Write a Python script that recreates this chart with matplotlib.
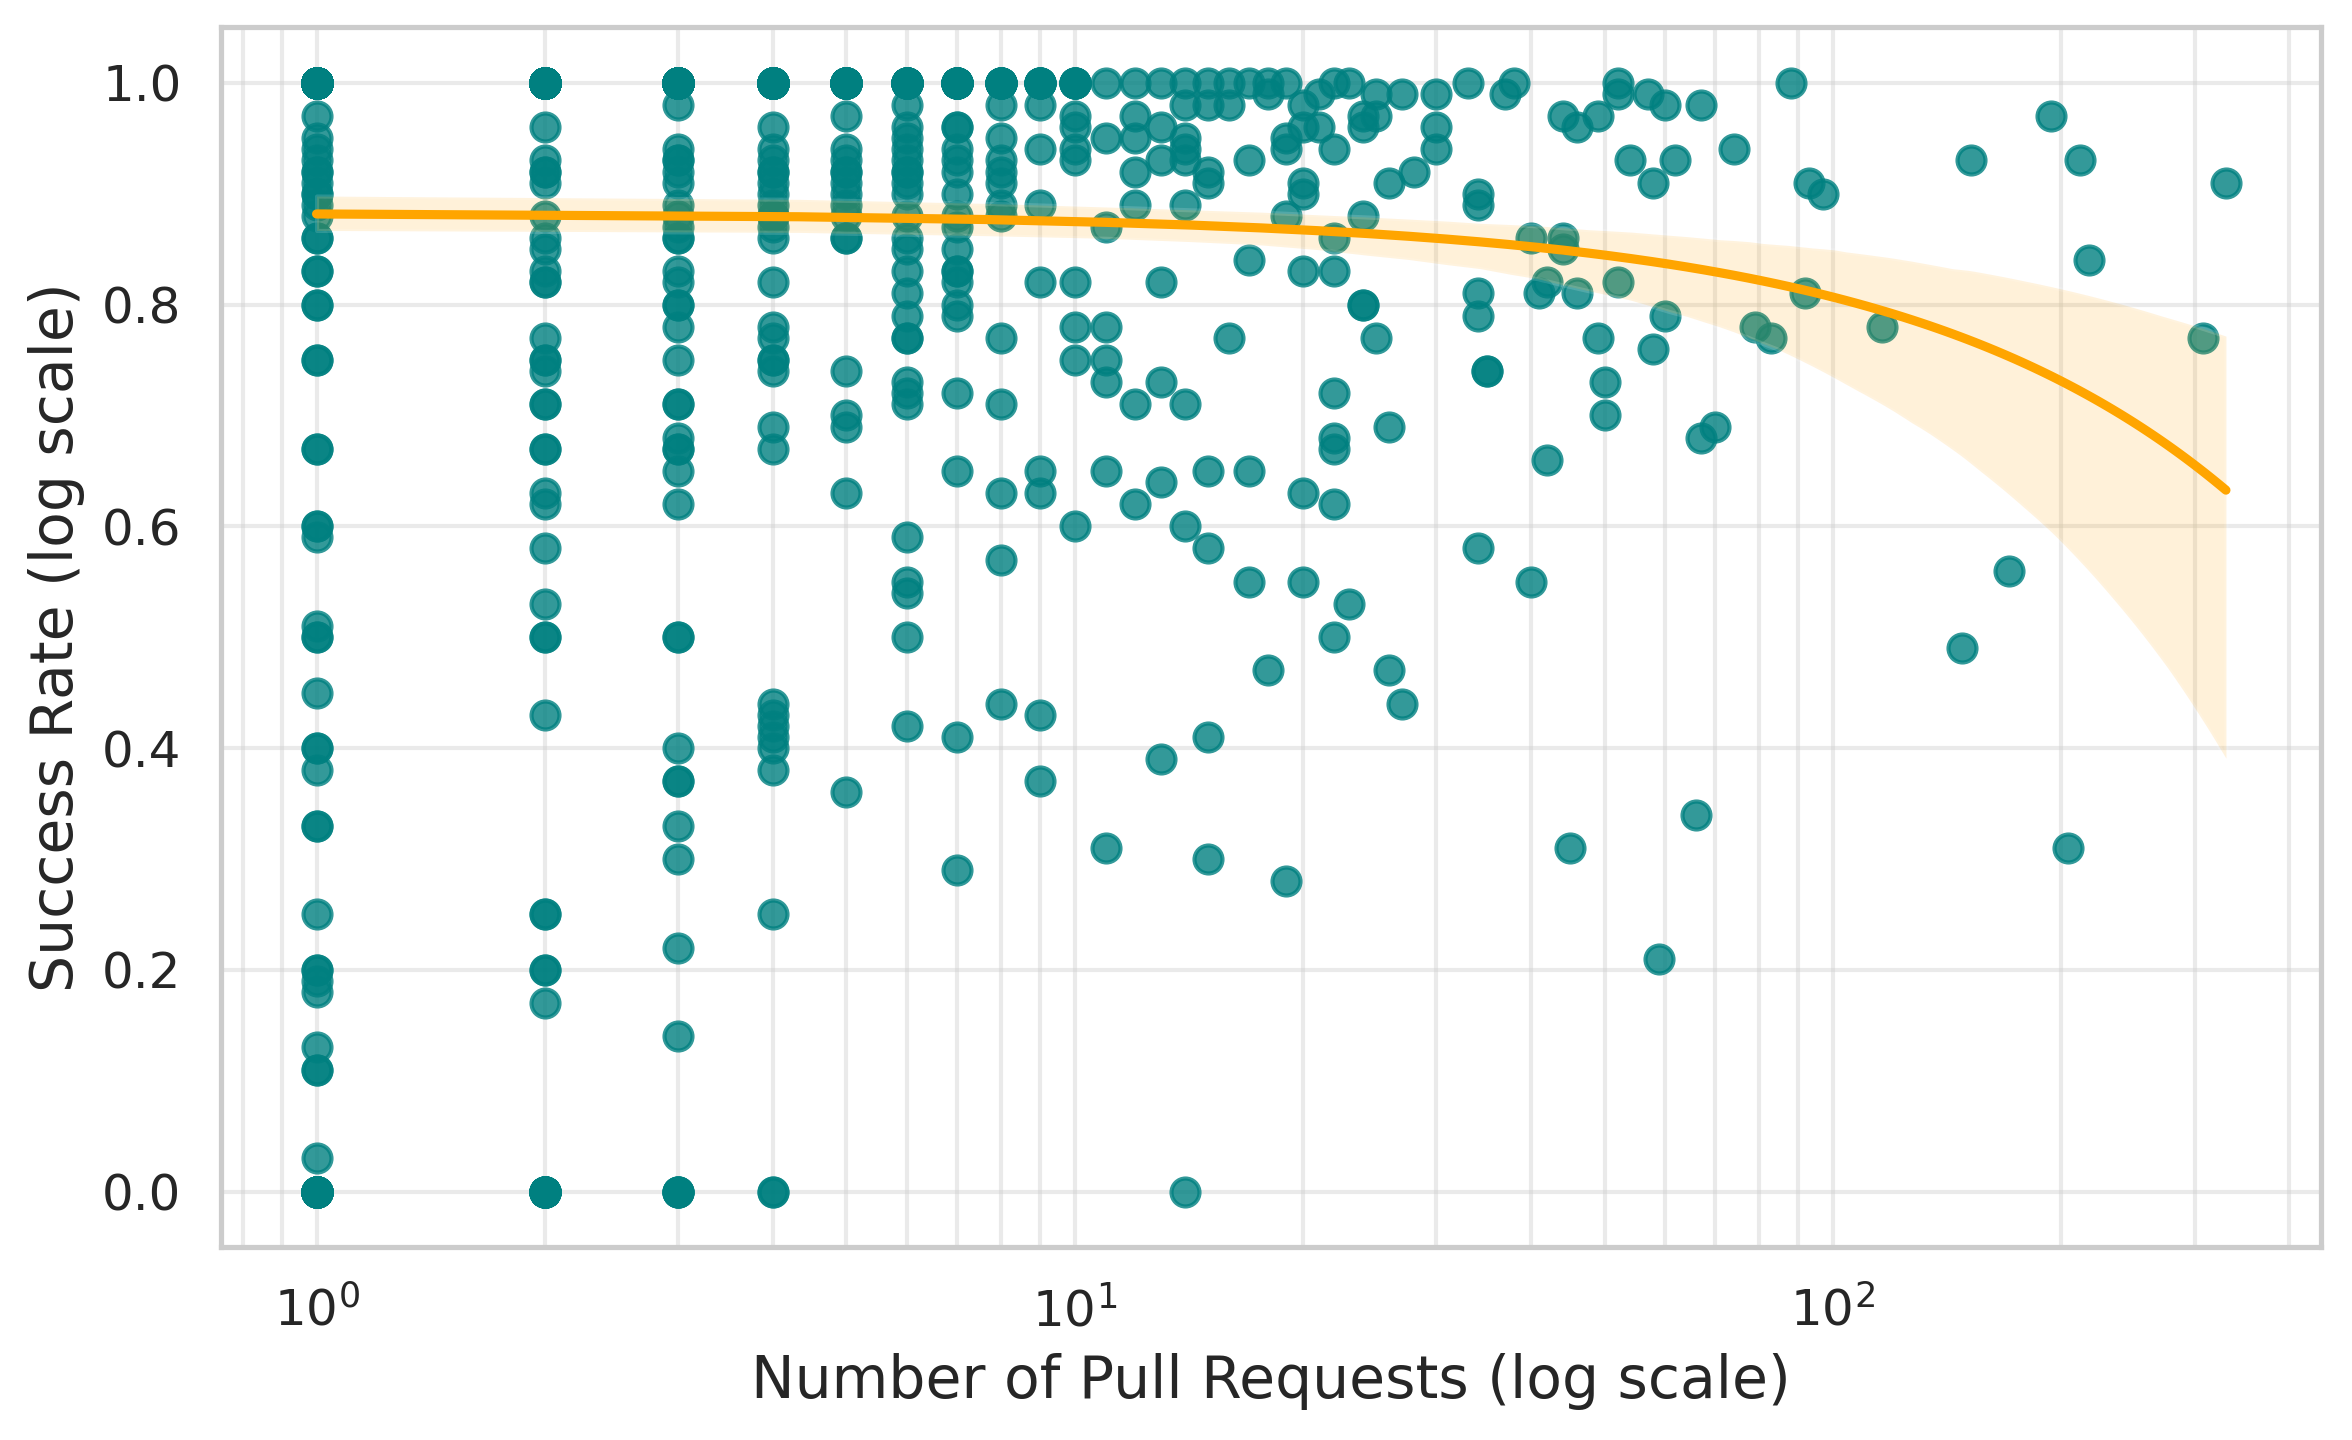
import matplotlib
matplotlib.use('Agg')
import matplotlib.pyplot as plt
import numpy as np
import seaborn as sns

# success rate of each contributor, grouped by number of pull requests
rates_pr1 = [0.97, 0.95, 0.94, 0.93, 0.92, 0.92, 0.91, 0.90, 0.90, 0.89, 0.88,
             0.86, 0.86, 0.83, 0.83, 0.80, 0.80, 0.75, 0.75, 0.67, 0.67, 0.60, 0.60, 0.59,
             0.51, 0.50, 0.50, 0.45, 0.40, 0.40, 0.38, 0.33, 0.33, 0.25, 0.20, 0.20, 0.19,
             0.18, 0.13, 0.11, 0.11, 0.03]
rates_pr2 = [0.96, 0.93, 0.92, 0.92, 0.91, 0.88, 0.86, 0.85, 0.83, 0.82, 0.82,
             0.77, 0.75, 0.75, 0.74, 0.71, 0.71, 0.67, 0.67, 0.63, 0.62, 0.58, 0.53, 0.50,
             0.50, 0.43, 0.25, 0.25, 0.20, 0.20, 0.17]
rates_pr3 = [0.98, 0.94, 0.93, 0.93, 0.92, 0.91, 0.89, 0.88, 0.87, 0.86, 0.86,
             0.83, 0.82, 0.80, 0.80, 0.78, 0.75, 0.71, 0.71, 0.68, 0.67, 0.67, 0.65, 0.62,
             0.50, 0.50, 0.40, 0.37, 0.37, 0.33, 0.30, 0.22, 0.14]
rates_pr4 = [0.96, 0.94, 0.93, 0.92, 0.92, 0.91, 0.90, 0.89, 0.88, 0.88, 0.87,
             0.86, 0.82, 0.78, 0.77, 0.75, 0.75, 0.74, 0.69, 0.67, 0.44, 0.43, 0.42, 0.41,
             0.40, 0.38, 0.25]
rates_pr5 = [0.97, 0.94, 0.93, 0.92, 0.92, 0.91, 0.90, 0.89, 0.88, 0.86,
             0.86, 0.74, 0.70, 0.69, 0.63, 0.36]
rates_pr6 = [0.98, 0.96, 0.95, 0.94, 0.93, 0.92, 0.92, 0.91, 0.90, 0.88,
             0.86, 0.85, 0.83, 0.81, 0.79, 0.77, 0.77, 0.73, 0.72, 0.71, 0.59, 0.55,
             0.54, 0.50, 0.42]
rates_pr7 = [0.96, 0.96, 0.94, 0.93, 0.92, 0.90, 0.88, 0.87, 0.85, 0.83, 0.83,
             0.82, 0.80, 0.79, 0.72, 0.65, 0.41, 0.29]
rates_pr8 = [0.98, 0.95, 0.93, 0.92, 0.91, 0.89, 0.88, 0.77, 0.71, 0.63, 0.57, 0.44]
rates_pr9 = [0.98, 0.94, 0.89, 0.82, 0.65, 0.63, 0.43, 0.37]
rates_pr10 = [0.97, 0.96, 0.94, 0.93, 0.82, 0.78, 0.75, 0.60]

# contributors at exactly 100% / 0% success for 1..10 pull requests
# (these stack on a single dot in the chart)
perfect_counts = [490, 180, 90, 60, 40, 30, 20, 12, 8, 7]
zero_counts = [50, 20, 5, 2, 0, 0, 0, 0, 0, 0]

# contributors with more pull requests (sparser columns)
pr_sparse = [11, 11, 11, 11, 11, 11, 11, 11,
             12, 12, 12, 12, 12, 12, 12,
             13, 13, 13, 13, 13, 13, 13,
             14, 14, 14, 14, 14, 14, 14, 14, 14,
             15, 15, 15, 15, 15, 15, 15, 15,
             16, 16, 16,
             17, 17, 17, 17, 17,
             18, 18, 18,
             19, 19, 19, 19, 19,
             20, 20, 20, 20, 20, 20, 20,
             21, 21,
             22, 22, 22, 22, 22, 22, 22, 22, 22,
             23, 23,
             24, 24, 24, 24, 24,
             25, 25, 25,
             26, 26, 26,
             27, 27, 28,
             30, 30, 30, 33,
             34, 34, 34, 34, 34,
             35, 35, 37, 38,
             40, 40, 41, 42, 42,
             44, 44, 44, 45, 46, 46,
             49, 49, 50, 50,
             52, 52, 52, 54, 57,
             58, 58, 59, 60, 60, 62,
             66, 67, 67, 70, 74, 79, 83, 88,
             93, 92, 97, 116, 148, 152, 171, 194, 204, 212, 218, 308, 330]
rate_sparse = [1.0, 0.95, 0.87, 0.78, 0.75, 0.73, 0.65, 0.31,
               1.0, 0.97, 0.95, 0.92, 0.89, 0.71, 0.62,
               1.0, 0.96, 0.93, 0.82, 0.73, 0.64, 0.39,
               1.0, 0.98, 0.95, 0.94, 0.93, 0.89, 0.71, 0.60, 0.0,
               1.0, 0.98, 0.92, 0.91, 0.65, 0.58, 0.41, 0.30,
               1.0, 0.98, 0.77,
               1.0, 0.93, 0.84, 0.65, 0.55,
               1.0, 0.99, 0.47,
               1.0, 0.95, 0.94, 0.88, 0.28,
               0.98, 0.96, 0.91, 0.90, 0.83, 0.63, 0.55,
               0.99, 0.96,
               1.0, 0.94, 0.86, 0.83, 0.72, 0.68, 0.67, 0.62, 0.50,
               1.0, 0.53,
               0.97, 0.96, 0.88, 0.80, 0.80,
               0.99, 0.97, 0.77,
               0.91, 0.69, 0.47,
               0.99, 0.44, 0.92,
               0.99, 0.96, 0.94, 1.0,
               0.90, 0.89, 0.81, 0.79, 0.58,
               0.74, 0.74, 0.99, 1.0,
               0.86, 0.55, 0.81, 0.82, 0.66,
               0.97, 0.86, 0.85, 0.31, 0.96, 0.81,
               0.97, 0.77, 0.73, 0.70,
               1.0, 0.99, 0.82, 0.93, 0.99,
               0.91, 0.76, 0.21, 0.98, 0.79, 0.93,
               0.34, 0.98, 0.68, 0.69, 0.94, 0.78, 0.77, 1.0,
               0.91, 0.81, 0.90, 0.78, 0.49, 0.93, 0.56, 0.97, 0.31, 0.93, 0.84, 0.77, 0.91]

groups = [rates_pr1, rates_pr2, rates_pr3, rates_pr4, rates_pr5,
          rates_pr6, rates_pr7, rates_pr8, rates_pr9, rates_pr10]
num_prs = []
success = []
for n, (rates, n_one, n_zero) in enumerate(zip(groups, perfect_counts, zero_counts), start=1):
    num_prs += [n] * (len(rates) + n_one + n_zero)
    success += [1.0] * n_one + rates + [0.0] * n_zero
num_prs += pr_sparse
success += rate_sparse
num_prs = np.array(num_prs, dtype=float)
success = np.array(success)

sns.set_theme(style='whitegrid')
plt.rcParams['font.family'] = ['DejaVu Sans']

fig, ax = plt.subplots(figsize=(7.84, 4.8), dpi=300)
fig.subplots_adjust(left=0.094, right=0.987, top=0.981, bottom=0.134)

sns.regplot(x=num_prs, y=success, ax=ax, seed=3,
            scatter_kws={'alpha': 0.8, 's': 45, 'color': 'teal'},
            line_kws={'color': 'orange', 'linewidth': 2.2})
ax.set_xscale('log')
ax.set_ylim(-0.05, 1.05)
ax.grid(True, which='both', alpha=0.4)

ax.set_xlabel('Number of Pull Requests (log scale)', fontsize=14)
ax.set_ylabel('Success Rate (log scale)', fontsize=14)
ax.tick_params(labelsize=12)

plt.savefig('out.png', dpi=300)
